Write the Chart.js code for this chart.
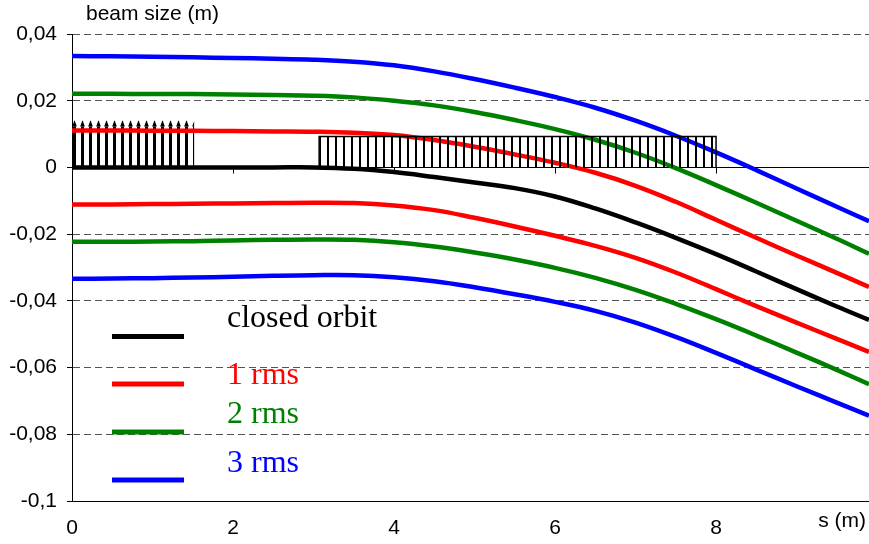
<!DOCTYPE html>
<html>
<head>
<meta charset="utf-8">
<script src="https://cdn.jsdelivr.net/npm/chart.js@4/dist/chart.umd.min.js"></script>
<style>
  html, body { margin: 0; padding: 0; background: #fff; }
  #wrap { position: relative; width: 869px; height: 544px; }
</style>
</head>
<body>
<div id="wrap"><canvas id="chart" width="869" height="544"></canvas></div>
<script>
// position along the line (m)
const S_M = [0, 0.5, 1, 1.5, 2, 2.5, 3, 3.5, 4, 4.5, 5, 5.5, 6, 6.5, 7, 7.5, 8, 8.5, 9, 9.5, 9.9];

// beam envelope (m)
const closedOrbit = [0, 0, 0, 0, 0, 0, 0, -0.0004, -0.0014, -0.0029, -0.0045, -0.0062, -0.0087, -0.0123, -0.0165, -0.0211, -0.0260, -0.0312, -0.0365, -0.0417, -0.0457];
const rms1Upper = [0.0111, 0.0111, 0.0110, 0.0110, 0.0109, 0.0108, 0.0107, 0.0104, 0.0097, 0.0082, 0.0062, 0.0039, 0.0014, -0.0016, -0.0055, -0.0103, -0.0157, -0.0211, -0.0264, -0.0316, -0.0358];
const rms1Lower = [-0.0111, -0.0111, -0.0110, -0.0109, -0.0108, -0.0107, -0.0106, -0.0107, -0.0114, -0.0128, -0.0151, -0.0177, -0.0205, -0.0235, -0.0271, -0.0315, -0.0365, -0.0416, -0.0465, -0.0514, -0.0553];
const rms2Upper = [0.0221, 0.0221, 0.0220, 0.0220, 0.0219, 0.0217, 0.0215, 0.0210, 0.0200, 0.0186, 0.0166, 0.0142, 0.0115, 0.0083, 0.0044, -0.0002, -0.0053, -0.0106, -0.0160, -0.0214, -0.0259];
const rms2Lower = [-0.0223, -0.0223, -0.0222, -0.0221, -0.0219, -0.0217, -0.0216, -0.0217, -0.0224, -0.0237, -0.0255, -0.0276, -0.0301, -0.0331, -0.0367, -0.0409, -0.0455, -0.0504, -0.0555, -0.0607, -0.0650];
const rms3Upper = [0.0334, 0.0333, 0.0332, 0.0330, 0.0328, 0.0326, 0.0323, 0.0317, 0.0306, 0.0288, 0.0265, 0.0239, 0.0211, 0.0179, 0.0140, 0.0095, 0.0045, -0.0008, -0.0063, -0.0118, -0.0161];
const rms3Lower = [-0.0334, -0.0333, -0.0332, -0.0330, -0.0328, -0.0325, -0.0323, -0.0323, -0.0329, -0.0341, -0.0359, -0.0380, -0.0403, -0.0430, -0.0465, -0.0508, -0.0556, -0.0606, -0.0656, -0.0705, -0.0744];

const seriesNames = ['closed orbit', '1 rms', '2 rms', '3 rms'];
const seriesColors = ['#000000', '#ff0000', '#008000', '#0000ff'];

// magnet blocks (hatched boxes), extents in m
const magnetStart = [0.01, 3.07];
const magnetEnd = [1.52, 8.0];
const magnetHeight = [0.0123, 0.0093];
const magnetTipHeight = [0.0141, null];
const magnetBars = [16, 50];

// axes
const yTicks = [0.04, 0.02, 0, -0.02, -0.04, -0.06, -0.08, -0.1];
const yTickLabels = ['0,04', '0,02', '0', '-0,02', '-0,04', '-0,06', '-0,08', '-0,1'];
const xTicks = [0, 2, 4, 6, 8];
const yAxisTitle = 'beam size (m)';
const xAxisTitle = 's (m)';

const SANS = '"Liberation Sans", Arial, sans-serif';
const SERIF = '"Liberation Serif", "Times New Roman", serif';

function pts(ys) {
  return S_M.map((s, i) => ({ x: s, y: ys[i] }));
}

// vertical stripe (or arrow-tip) pattern lined up with a magnet block
function stripeFill(chart, i, w, tips) {
  const xs = chart.scales.x, ys = chart.scales.y;
  if (!xs || !ys || !chart.chartArea) return 'rgba(0,0,0,0)';
  const p0 = Math.round(xs.getPixelForValue(magnetStart[i]));
  const p1 = xs.getPixelForValue(magnetEnd[i]);
  const tw = Math.max(2, Math.round((p1 - p0 - w) / (magnetBars[i] - 1)));
  const base = ys.getPixelForValue(magnetHeight[i]);
  const top = tips ? ys.getPixelForValue(magnetTipHeight[i]) : base;
  const th = tips ? Math.max(1, Math.ceil(base - top)) : 1;
  const tile = document.createElement('canvas');
  tile.width = tw;
  tile.height = th;
  const g = tile.getContext('2d');
  const o = 1;
  g.fillStyle = '#000';
  if (tips) {
    g.beginPath();
    g.moveTo(o - 1, th);
    g.lineTo(o + w / 2, 0);
    g.lineTo(o + w + 1, th);
    g.closePath();
    g.fill();
  } else {
    g.fillRect(o, 0, w, th);
  }
  const pat = g.createPattern(tile, 'repeat');
  pat.setTransform(new DOMMatrix().translate(p0 - o, Math.round(top)));
  return pat;
}

const curve = (data, color) => ({
  data: pts(data),
  borderColor: color,
  borderWidth: 4.5,
  pointRadius: 0,
  fill: false,
  tension: 0.4,
  order: 5,
});

const datasets = [
  // magnet 1: stripes + arrow tips (under the curves)
  {
    data: [{ x: magnetStart[0], y: magnetHeight[0] }, { x: magnetEnd[0], y: magnetHeight[0] }],
    borderWidth: 0, pointRadius: 0, fill: 'origin',
    backgroundColor: (c) => stripeFill(c.chart, 0, 3, false),
    order: 10,
  },
  {
    data: [{ x: magnetStart[0], y: magnetTipHeight[0] }, { x: magnetEnd[0], y: magnetTipHeight[0] }],
    borderWidth: 0, pointRadius: 0, fill: { value: magnetHeight[0] },
    backgroundColor: (c) => stripeFill(c.chart, 0, 3, true),
    order: 10,
  },
  curve(closedOrbit, seriesColors[0]),
  curve(rms1Upper, seriesColors[1]),
  curve(rms1Lower, seriesColors[1]),
  curve(rms2Upper, seriesColors[2]),
  curve(rms2Lower, seriesColors[2]),
  curve(rms3Upper, seriesColors[3]),
  curve(rms3Lower, seriesColors[3]),
  // magnet 2: outlined hatched box (on top)
  {
    data: [
      { x: magnetStart[1], y: 0 }, { x: magnetStart[1], y: magnetHeight[1] },
      { x: magnetEnd[1], y: magnetHeight[1] }, { x: magnetEnd[1], y: 0 },
    ],
    borderColor: '#000', borderWidth: 1.5, pointRadius: 0, fill: 'origin',
    backgroundColor: (c) => stripeFill(c.chart, 1, 2, false),
    order: 0,
  },
];

// small downward ticks on the zero line
const zeroAxisTicks = {
  id: 'zeroAxisTicks',
  beforeDatasetsDraw(chart) {
    const { ctx, scales: { x, y } } = chart;
    const y0 = Math.round(y.getPixelForValue(0)) + 0.5;
    ctx.save();
    ctx.strokeStyle = '#000';
    ctx.lineWidth = 1;
    xTicks.forEach((v) => {
      if (v === 0) return;
      const px = Math.round(x.getPixelForValue(v)) + 0.5;
      ctx.beginPath();
      ctx.moveTo(px, y0);
      ctx.lineTo(px, y0 + 6);
      ctx.stroke();
    });
    ctx.restore();
  },
};

// axis titles and the hand-placed legend
const legendLineY = [336.5, 384, 432, 480];
const legendTextY = [327, 384, 423, 471.5];

const annotate = {
  id: 'annotate',
  afterDraw(chart) {
    const ctx = chart.ctx;
    ctx.save();
    ctx.fillStyle = '#000';
    ctx.font = '21px ' + SANS;
    ctx.textBaseline = 'alphabetic';
    ctx.textAlign = 'left';
    ctx.fillText(yAxisTitle, 86, 20);
    ctx.textAlign = 'right';
    ctx.fillText(xAxisTitle, 866, 527);

    ctx.textAlign = 'left';
    ctx.font = '32px ' + SERIF;
    seriesNames.forEach((name, i) => {
      ctx.strokeStyle = seriesColors[i];
      ctx.lineWidth = 5;
      ctx.beginPath();
      ctx.moveTo(112, legendLineY[i]);
      ctx.lineTo(184, legendLineY[i]);
      ctx.stroke();
      ctx.fillStyle = seriesColors[i];
      ctx.fillText(name, 227, legendTextY[i]);
    });
    ctx.restore();
  },
};

const isSolid = (c) => !c.tick || c.tick.value === 0 || c.tick.value === -0.1;

new Chart(document.getElementById('chart'), {
  type: 'line',
  data: { datasets },
  plugins: [zeroAxisTicks, annotate],
  options: {
    responsive: false,
    animation: false,
    layout: { padding: { top: 34, right: 0, bottom: 0, left: 0 } },
    plugins: {
      legend: { display: false },
      tooltip: { enabled: false },
    },
    scales: {
      x: {
        type: 'linear',
        min: 0,
        max: 9.9,
        grid: { display: false, drawTicks: false },
        border: { display: true, color: '#000', width: 1 },
        afterBuildTicks: (s) => { s.ticks = xTicks.map((v) => ({ value: v })); },
        ticks: {
          color: '#000',
          font: { family: SANS, size: 21 },
          padding: 15,
          maxRotation: 0,
          callback: (v) => String(v),
        },
        afterFit: (s) => { s.height = 43; s.paddingLeft = 0; s.paddingRight = 0; },
      },
      y: {
        min: -0.1,
        max: 0.04,
        afterBuildTicks: (s) => { s.ticks = yTicks.map((v) => ({ value: v })); },
        grid: {
          color: (c) => (isSolid(c) ? '#000' : '#555'),
          lineWidth: 1,
          drawTicks: true,
          tickLength: 5,
          tickColor: '#000',
        },
        border: {
          display: true,
          color: '#000',
          width: 1,
          dash: (c) => (isSolid(c) ? [] : [7, 4]),
        },
        ticks: {
          color: '#000',
          font: { family: SANS, size: 21 },
          padding: 10,
          callback: (v) => {
            const i = yTicks.findIndex((t) => Math.abs(t - v) < 1e-9);
            return i >= 0 ? yTickLabels[i] : '';
          },
        },
        afterFit: (s) => { s.width = 72; },
      },
    },
  },
});
</script>
</body>
</html>
